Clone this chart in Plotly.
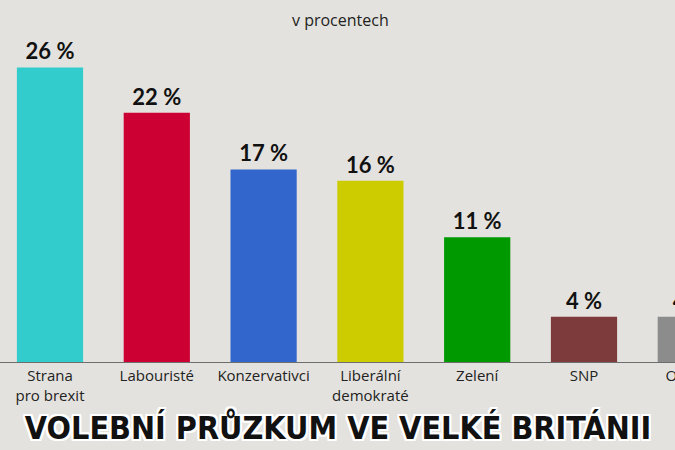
import plotly.graph_objects as go

categories = ["Strana<br>pro brexit", "Labouristé", "Konzervativci", "Liberální<br>demokraté", "Zelení", "SNP", "Ostatní"]
values = [26, 22, 17, 16, 11, 4, 4]
colors = ["#33cccc", "#cc0033", "#3366cc", "#cccc00", "#009900", "#7d3b3b", "#8c8c8c"]
value_labels = [f"{v} %" for v in values]

FIG_W = 745
FIG_H = 450
PX_PER_CAT = 106.8
FIRST_CENTER = 50

xr = [-FIRST_CENTER / PX_PER_CAT, (FIG_W - FIRST_CENTER) / PX_PER_CAT]
top_m, bot_m = 20, 88
yr = [0, (FIG_H - bot_m - top_m) / 11.33]

fig = go.Figure()
fig.add_trace(go.Bar(
    x=list(range(len(categories))),
    y=values,
    marker=dict(color=colors, line=dict(width=0)),
    text=value_labels,
    textposition="outside",
    textfont=dict(family="Lato", size=22, color="#111111", weight="bold"),
    cliponaxis=False,
    width=0.62,
))

outline = ", ".join(f"{dx}px {dy}px 0 #ffffff" for dx in (-2, 0, 2) for dy in (-2, 0, 2) if dx or dy)

fig.update_layout(
    width=FIG_W, height=FIG_H, autosize=False,
    margin=dict(l=0, r=0, t=top_m, b=bot_m),
    paper_bgcolor="#e4e2de",
    plot_bgcolor="#e4e2de",
    showlegend=False,
    title=dict(
        text="VOLEBNÍ PRŮZKUM VE VELKÉ BRITÁNII",
        x=338 / FIG_W, xanchor="center",
        y=1 - 428 / FIG_H, yanchor="middle",
        yref="container", xref="paper",
        font=dict(family="DejaVu Sans Condensed, sans-serif", size=32, color="#111111", weight="bold", shadow=outline),
    ),
    xaxis=dict(
        range=xr,
        tickmode="array",
        tickvals=list(range(len(categories))),
        ticktext=categories,
        showgrid=False, zeroline=False,
        showline=True, linecolor="#6e6e6e", linewidth=1,
        ticks="", tickfont=dict(family="Open Sans", size=15, color="#222222"),
        fixedrange=True,
    ),
    yaxis=dict(range=yr, visible=False, fixedrange=True),
    annotations=[dict(
        text="v procentech", xref="paper", yref="paper",
        x=340 / FIG_W, y=1, yanchor="middle", xanchor="center",
        showarrow=False, font=dict(family="Open Sans", size=16, color="#222222"),
    )],
)

fig.write_html("out.html", config={"displayModeBar": False},
               post_script="document.documentElement.style.overflow='hidden';document.body.style.overflow='hidden';document.body.style.margin='0';")
